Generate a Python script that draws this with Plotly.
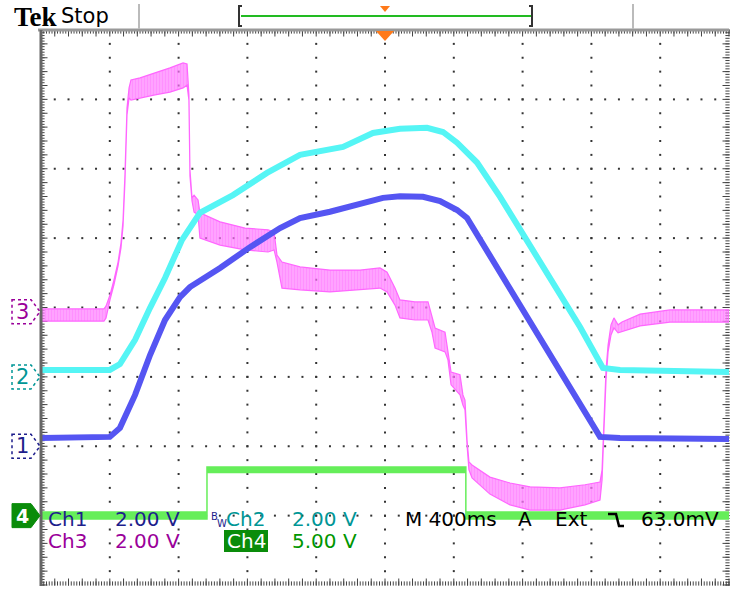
import numpy as np
import plotly.graph_objects as go

# ---- screen geometry -------------------------------------------------------
W, H = 731, 592
ML, MR, MT, MB = 41, 2, 30, 7
PW, PH = W - ML - MR, H - MT - MB          # graticule size in px

T_DIV = 400.0                               # ms / div
N_HDIV, N_VDIV = 10, 8
T0, T1 = -N_HDIV / 2 * T_DIV, N_HDIV / 2 * T_DIV

# ---- channel settings (V/div, position in div) -----------------------------
CH1_SCALE, CH1_POS = 2.0, -2.0
CH2_SCALE, CH2_POS = 2.0, -1.0
CH3_SCALE, CH3_POS = 2.0, -0.06
CH4_SCALE, CH4_POS = 5.0, -3.0

# ---- acquired waveforms (time in ms, volts) --------------------------------
ch1_t = [-2000, -1600, -1541, -1453, -1366, -1279, -1192, -1134, -959, -785,
         -610, -494, -320, -174, -12, 87, 221, 320, 419, 477,
         669, 959, 1134, 1250, 1366, 2000]
ch1_v = [0.24, 0.27, 0.53, 1.48, 2.63, 3.64, 4.30, 4.59, 5.14, 5.74,
         6.29, 6.58, 6.76, 6.96, 7.16, 7.21, 7.19, 7.07, 6.81, 6.58,
         5.02, 2.66, 1.19, 0.27, 0.24, 0.21]

ch2_t = [-2000, -1600, -1541, -1453, -1366, -1279, -1180, -1076, -884, -686,
         -494, -244, -70, 87, 244, 337, 419, 535, 669, 959,
         1134, 1267, 1366, 2000]
ch2_v = [0.20, 0.20, 0.37, 1.07, 1.99, 2.85, 3.95, 4.73, 5.24, 5.88,
         6.40, 6.63, 7.03, 7.15, 7.18, 7.06, 6.75, 6.18, 5.19, 2.85,
         1.44, 0.26, 0.20, 0.14]

# channel 3 carries ripple: upper / lower envelope
ch3_t = [-2000, -1634, -1622, -1599, -1576, -1552, -1535, -1523, -1512, -1500,
         -1488, -1477, -1424, -1337, -1250, -1174, -1151, -1140, -1134, -1122,
         -1110, -1087, -1076, -959, -814, -680, -645, -628, -599, -494,
         -320, -145, -29, 12, 58, 87, 174, 250, 273, 291,
         349, 366, 384, 436, 453, 465, 477, 488, 506, 610,
         727, 843, 1017, 1163, 1250, 1262, 1273, 1285, 1297, 1314,
         1331, 1355, 1378, 1483, 1657, 2000]
ch3_hi = [0.08, 0.08, 0.16, 0.48, 0.91, 1.43, 1.98, 2.64, 3.94, 5.87,
          6.45, 6.68, 6.74, 6.88, 7.03, 7.17, 7.14, 6.25, 4.09, 3.28,
          3.36, 3.22, 2.85, 2.59, 2.41, 2.36, 2.30, 1.63, 1.43, 1.29,
          1.20, 1.20, 1.26, 1.14, 0.68, 0.34, 0.28, 0.28, -0.18, -0.47,
          -0.59, -1.10, -1.74, -1.82, -2.40, -2.55, -3.70, -4.33, -4.42, -4.77,
          -4.94, -5.05, -5.08, -4.99, -4.91, -4.56, -3.12, -1.68, -0.96, -0.38,
          -0.18, -0.38, -0.30, -0.07, 0.05, 0.05]
ch3_lo = [-0.27, -0.27, -0.18, 0.34, 0.77, 1.32, 1.84, 2.47, 3.74, 5.67,
          6.16, 6.10, 6.16, 6.25, 6.33, 6.45, 6.53, 6.10, 3.91, 3.19,
          2.87, 2.79, 2.12, 1.92, 1.78, 1.72, 1.78, 1.43, 0.68, 0.63,
          0.57, 0.63, 0.68, 0.57, 0.19, -0.18, -0.24, -0.24, -0.59, -1.05,
          -1.16, -1.39, -2.11, -2.40, -2.69, -2.83, -3.84, -4.56, -4.79, -5.26,
          -5.57, -5.72, -5.72, -5.57, -5.43, -4.85, -3.41, -1.97, -1.16, -0.67,
          -0.47, -0.61, -0.59, -0.41, -0.30, -0.30]

# channel 4: gate pulse, upper / lower envelope
ch4_t = [-2000, -1035, -1035, 470, 470, 2000]
ch4_hi = [0.26, 0.26, 3.50, 3.50, 0.26, 0.26]
ch4_lo = [-0.24, -0.24, 3.10, 3.10, -0.24, -0.24]

# ---- colours ---------------------------------------------------------------
C1, C2, C3, C4 = "#5555F2", "#55F5F5", "#FF66FF", "#66EE5A"
T1C, T2C, T3C, T4C = "#1E1E8C", "#009696", "#9A009A", "#009600"


def to_div(v, scale, pos):
    return [x / scale + pos for x in v]


def px(x):   # screen px -> paper x
    return (x - ML) / PW


def py(y):   # screen px -> paper y
    return (MT + PH - y) / PH


fig = go.Figure()

# ---- graticule dots --------------------------------------------------------
gx, gy = [], []
for k in range(1, N_HDIV):
    for j in range(1, N_VDIV * 5):
        gx.append(T0 + k * T_DIV)
        gy.append(-N_VDIV / 2 + j * 0.2)
for k in range(1, N_VDIV):
    for j in range(1, N_HDIV * 5):
        gx.append(T0 + j * T_DIV / 5)
        gy.append(-N_VDIV / 2 + k)
fig.add_trace(go.Scatter(x=gx, y=gy, mode="markers", hoverinfo="skip",
                         marker=dict(symbol="square", size=2, color="#333333"),
                         showlegend=False))

# ---- border ruler ticks ----------------------------------------------------
ms_px = T_DIV / (PW / N_HDIV)
div_px = 1.0 / (PH / N_VDIV)
fine_t = np.arange(T0, T1 + 1e-6, T_DIV / 25)
fine_y = np.arange(-4, 4 + 1e-6, 0.04)
maj_t = np.arange(T0, T1 + 1e-6, T_DIV / 5)
maj_y = np.arange(-4, 4 + 1e-6, 0.2)
tick_style = dict(mode="markers", hoverinfo="skip", showlegend=False, cliponaxis=False)
# top and bottom
for yb, sgn in ((4, -1), (-4, 1)):
    fig.add_trace(go.Scatter(x=fine_t, y=[yb + sgn * 1.5 * div_px] * len(fine_t),
                             marker=dict(symbol="line-ns", size=3, line=dict(width=1, color="#444")),
                             **tick_style))
    fig.add_trace(go.Scatter(x=maj_t, y=[yb + sgn * 3 * div_px] * len(maj_t),
                             marker=dict(symbol="line-ns", size=5, line=dict(width=1, color="#444")),
                             **tick_style))
# left and right
for xb, sgn in ((T0, 1), (T1, -1)):
    fig.add_trace(go.Scatter(x=[xb + sgn * 1.5 * ms_px] * len(fine_y), y=fine_y,
                             marker=dict(symbol="line-ew", size=3, line=dict(width=1, color="#444")),
                             **tick_style))
    fig.add_trace(go.Scatter(x=[xb + sgn * 3 * ms_px] * len(maj_y), y=maj_y,
                             marker=dict(symbol="line-ew", size=5, line=dict(width=1, color="#444")),
                             **tick_style))

# ---- waveforms -------------------------------------------------------------
def envelope(t, hi, lo, scale, pos, color, pattern=None, fillcolor=None, lw=1.5):
    xs = list(t) + list(t)[::-1]
    ys = to_div(hi, scale, pos) + to_div(lo, scale, pos)[::-1]
    kw = dict(x=xs, y=ys, mode="lines", fill="toself", hoverinfo="skip",
              line=dict(color=color, width=lw), showlegend=False)
    if pattern:
        kw["fillpattern"] = pattern
        kw["fillcolor"] = fillcolor
    else:
        kw["fillcolor"] = color
    return go.Scatter(**kw)


fig.add_trace(envelope(ch4_t, ch4_hi, ch4_lo, CH4_SCALE, CH4_POS, C4))
fig.add_trace(envelope(ch3_t, ch3_hi, ch3_lo, CH3_SCALE, CH3_POS, C3,
                       pattern=dict(shape="|", fgcolor=C3, bgcolor="rgba(255,130,255,0.55)",
                                    size=3, solidity=0.7),
                       fillcolor="rgba(255,130,255,0.55)", lw=1.2))
fig.add_trace(go.Scatter(x=ch2_t, y=to_div(ch2_v, CH2_SCALE, CH2_POS), mode="lines",
                         line=dict(color=C2, width=6), hoverinfo="skip", showlegend=False))
fig.add_trace(go.Scatter(x=ch1_t, y=to_div(ch1_v, CH1_SCALE, CH1_POS), mode="lines",
                         line=dict(color=C1, width=6), hoverinfo="skip", showlegend=False))

shapes = []
annotations = []

# ---- frame -----------------------------------------------------------------
shapes.append(dict(type="line", xref="paper", yref="paper", x0=px(38), x1=px(729),
                   y0=py(30), y1=py(30), line=dict(color="#999999", width=3)))
shapes.append(dict(type="line", xref="paper", yref="paper", x0=px(41), x1=px(41),
                   y0=py(30), y1=py(586), line=dict(color="#666666", width=3)))
for xs in (139, 633):
    shapes.append(dict(type="line", xref="paper", yref="paper", x0=px(xs), x1=px(xs),
                       y0=py(4), y1=py(29), line=dict(color="#BBBBBB", width=2)))

# record view bracket
shapes.append(dict(type="line", xref="paper", yref="paper", x0=px(241), x1=px(531),
                   y0=py(16), y1=py(16), line=dict(color="#22BB22", width=2)))
for xa, d in ((239, 1), (532, -1)):
    path = (f"M {px(xa + 3 * d)},{py(6)} L {px(xa)},{py(6)} "
            f"L {px(xa)},{py(26)} L {px(xa + 3 * d)},{py(26)}")
    shapes.append(dict(type="path", xref="paper", yref="paper", path=path,
                       line=dict(color="#333333", width=2)))

# trigger position markers (at t = 0)
half = 5 * ms_px
shapes.append(dict(type="path", xref="x", yref="paper",
                   path=f"M {-half},{py(6)} L {half},{py(6)} L 0,{py(12)} Z",
                   fillcolor="#FF7A1A", line=dict(width=0)))
half = 9 * ms_px
shapes.append(dict(type="path", xref="x", yref="paper",
                   path=f"M {-half},{py(31)} L {half},{py(31)} L 0,{py(41)} Z",
                   fillcolor="#FF7A1A", line=dict(width=0)))

# ---- channel ground markers ------------------------------------------------
hh = 12 * div_px
for label, pos, col, filled in (("3", CH3_POS, T3C, False), ("2", CH2_POS, T2C, False),
                                ("1", CH1_POS, T1C, False), ("4", CH4_POS, T4C, True)):
    path = (f"M {px(12)},{pos + hh} L {px(31)},{pos + hh} L {px(40)},{pos} "
            f"L {px(31)},{pos - hh} L {px(12)},{pos - hh} Z")
    if filled:
        shapes.append(dict(type="path", xref="paper", yref="y", path=path,
                           fillcolor="#0A8C0A", line=dict(color="#0A8C0A", width=1)))
        annotations.append(dict(x=px(22), y=pos, xref="paper", yref="y", text="<b>4</b>",
                                xanchor="center", yanchor="middle", showarrow=False,
                                font=dict(family="DejaVu Sans", size=19, color="white")))
    else:
        shapes.append(dict(type="path", xref="paper", yref="y", path=path,
                           fillcolor="white", line=dict(color=col, width=1.5, dash="dot")))
        annotations.append(dict(x=px(22), y=pos, xref="paper", yref="y", text=label,
                                xanchor="center", yanchor="middle", showarrow=False,
                                font=dict(family="DejaVu Sans", size=21, color=col)))

# ---- header text -----------------------------------------------------------
annotations.append(dict(x=px(12), y=py(17), xref="paper", yref="paper", text="<b>Tek</b>",
                        xanchor="left", yanchor="middle", showarrow=False,
                        font=dict(family="Liberation Serif", size=27, color="black")))
annotations.append(dict(x=px(59), y=py(16), xref="paper", yref="paper", text="Stop",
                        xanchor="left", yanchor="middle", showarrow=False,
                        font=dict(family="DejaVu Sans", size=21, color="black")))

# ---- readout ---------------------------------------------------------------
def readout(x, y, text, color, size=20):
    annotations.append(dict(x=px(x), y=py(y), xref="paper", yref="paper", text=text,
                            xanchor="left", yanchor="middle", showarrow=False,
                            font=dict(family="DejaVu Sans", size=size, color=color)))


R1, R2 = 519, 541
readout(46, R1, "Ch1", T1C)
readout(113, R1, "2.00 V", T1C)
readout(209, R1 - 3, "B", T1C, 10)
readout(215, R1 + 4, "W", T1C, 10)
readout(224, R1, "Ch2", T2C)
readout(290, R1, "2.00 V", T2C)
readout(403, R1, "M 400ms", "black")
readout(516, R1, "A", "black")
readout(553, R1, "Ext", "black")
readout(639, R1, "63.0mV", "black")
readout(46, R2, "Ch3", T3C)
readout(113, R2, "2.00 V", T3C)
shapes.append(dict(type="rect", xref="paper", yref="paper", x0=px(224), x1=px(268),
                   y0=py(530), y1=py(552), fillcolor="#0A8C0A", line=dict(width=0)))
readout(225, R2, "Ch4", "white")
readout(290, R2, "5.00 V", T4C)

# falling-edge trigger slope glyph
shapes.append(dict(type="path", xref="paper", yref="paper",
                   path=(f"M {px(608)},{py(514)} L {px(616)},{py(514)} "
                         f"L {px(619)},{py(526)} L {px(624)},{py(526)}"),
                   line=dict(color="black", width=2.5)))

fig.update_layout(
    width=W, height=H,
    margin=dict(l=ML, r=MR, t=MT, b=MB, pad=0),
    paper_bgcolor="white", plot_bgcolor="white",
    xaxis=dict(range=[T0, T1], showgrid=False, zeroline=False, showticklabels=False,
               showline=False, ticks="", fixedrange=True),
    yaxis=dict(range=[-N_VDIV / 2, N_VDIV / 2], showgrid=False, zeroline=False,
               showticklabels=False, showline=False, ticks="", fixedrange=True),
    shapes=shapes, annotations=annotations, showlegend=False,
)

fig.write_html("out.html", config={"displayModeBar": False})
